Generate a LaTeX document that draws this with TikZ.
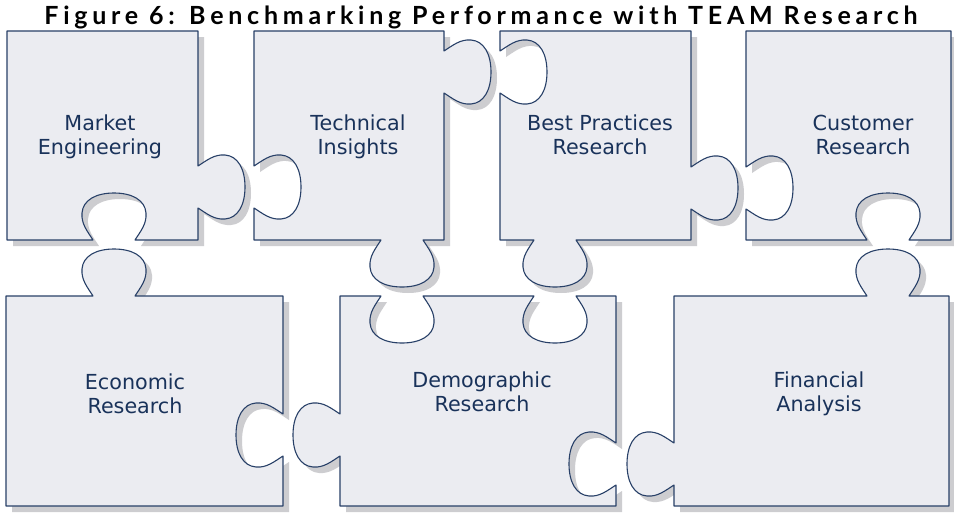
\documentclass[tikz,border=0pt]{standalone}
\usepackage{fontspec}
\newfontfamily\lblfont{DejaVu Sans}
\newfontfamily\titlefont{Lato}[LetterSpace=19]

% Knob / socket on a puzzle edge.
% centre (#1,#2) on the edge, travel direction (#3,#4), #5 = 1 knob outwards, -1 socket inwards
\newcommand\kX[2]{\kcx+(#1)*(\ktx)+(#2)*(\ksg)*(\kty)}
\newcommand\kY[2]{\kcy+(#1)*(\kty)-(#2)*(\ksg)*(\ktx)}
\newcommand\knob[5]{%
  \pgfextra{\gdef\kcx{#1}\gdef\kcy{#2}\gdef\ktx{#3}\gdef\kty{#4}\gdef\ksg{#5}}%
  -- ({\kX{-21}{0}},{\kY{-21}{0}})
  .. controls ({\kX{-26}{8}},{\kY{-26}{8}}) and ({\kX{-33}{16}},{\kY{-33}{16}})
  .. ({\kX{-32}{27}},{\kY{-32}{27}})
  .. controls ({\kX{-31}{40}},{\kY{-31}{40}}) and ({\kX{-18}{47}},{\kY{-18}{47}})
  .. ({\kX{0}{47}},{\kY{0}{47}})
  .. controls ({\kX{18}{47}},{\kY{18}{47}}) and ({\kX{31}{40}},{\kY{31}{40}})
  .. ({\kX{32}{27}},{\kY{32}{27}})
  .. controls ({\kX{33}{16}},{\kY{33}{16}}) and ({\kX{26}{8}},{\kY{26}{8}})
  .. ({\kX{21}{0}},{\kY{21}{0}})}

% piece outlines, traced clockwise
\newcommand\pieceME{(7,31) -- (198,31) \knob{198}{187}{0}{1}{1} -- (198,240)
  \knob{114}{240}{-1}{0}{-1} -- (7,240) -- cycle}
\newcommand\pieceTI{(254,31) -- (444,31) \knob{444}{72}{0}{1}{1} -- (444,240)
  \knob{402}{240}{-1}{0}{1} -- (254,240) \knob{254}{187}{0}{-1}{-1} -- cycle}
\newcommand\pieceBP{(500,31) -- (691,31) \knob{691}{188}{0}{1}{1} -- (691,240)
  \knob{555}{240}{-1}{0}{1} -- (500,240) \knob{500}{72}{0}{-1}{-1} -- cycle}
\newcommand\pieceCR{(746,31) -- (951,31) -- (951,240)
  \knob{888}{240}{-1}{0}{-1} -- (746,240) \knob{746}{188}{0}{-1}{-1} -- cycle}
\newcommand\pieceER{(6,296) \knob{114}{296}{1}{0}{1} -- (283,296)
  \knob{283}{435}{0}{1}{-1} -- (283,506) -- (6,506) -- cycle}
\newcommand\pieceDR{(340,296) \knob{402}{296}{1}{0}{-1} \knob{555}{296}{1}{0}{-1} -- (616,296)
  \knob{616}{464}{0}{1}{-1} -- (616,506) -- (340,506) \knob{340}{435}{0}{-1}{1} -- cycle}
\newcommand\pieceFA{(674,296) \knob{888}{296}{1}{0}{1} -- (949,296) -- (949,506)
  -- (674,506) \knob{674}{464}{0}{-1}{1} -- cycle}

\definecolor{piecefill}{RGB}{235,236,241}
\definecolor{pieceline}{RGB}{40,64,104}
\definecolor{pieceshadow}{RGB}{205,205,208}
\definecolor{lbltext}{RGB}{25,50,90}

\begin{document}
\begin{tikzpicture}[x=1pt,y=-1pt,
  piece/.style={fill=piecefill,draw=pieceline,line width=1.1pt,line join=round},
  pshadow/.style={fill=pieceshadow,shift={(6,6)}},
  lbl/.style={text=lbltext,align=center,inner sep=0pt,
    font=\lblfont\fontsize{20.7}{23.5}\selectfont},
  ttl/.style={anchor=base,inner sep=0pt,font=\titlefont\bfseries\fontsize{25}{29}\selectfont}]
\fill[white] (0,0) rectangle (954,512);
\useasboundingbox (0,0) rectangle (954,512);

% shadows
\foreach \p in {\pieceME,\pieceTI,\pieceBP,\pieceCR,\pieceER,\pieceDR,\pieceFA}
  {\fill[pshadow] \p;}
% pieces
\foreach \p in {\pieceME,\pieceTI,\pieceBP,\pieceCR,\pieceER,\pieceDR,\pieceFA}
  {\draw[piece] \p;}

\node[ttl] (title) at (481,24) {Figure 6: Benchmarking Performance with TEAM Research};

\node[lbl] (me) at (100,138) {\strut Market\\\strut Engineering};
\node[lbl] (ti) at (358,138) {\strut Technical\\\strut Insights};
\node[lbl] (bp) at (600,138) {\strut Best Practices\\\strut Research};
\node[lbl] (cr) at (863,138) {\strut Customer\\\strut Research};
\node[lbl] (er) at (135,397) {\strut Economic\\\strut Research};
\node[lbl] (dr) at (482,395) {\strut Demographic\\\strut Research};
\node[lbl] (fa) at (819,395) {\strut Financial\\\strut Analysis};
\end{tikzpicture}
\end{document}
